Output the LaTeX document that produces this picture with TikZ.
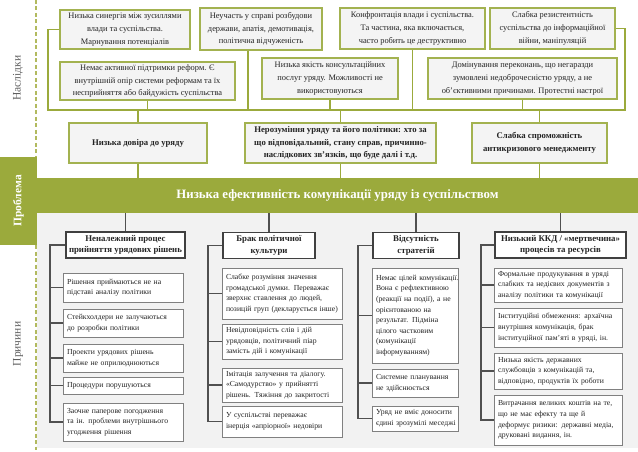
\documentclass[tikz,border=0pt]{standalone}
\usepackage{fontspec}
\setmainfont{Liberation Serif}
\definecolor{olive}{RGB}{155,170,60}
\definecolor{olivebd}{RGB}{163,178,80}
\definecolor{boxfill}{RGB}{244,244,244}
\definecolor{bggray}{RGB}{242,242,242}
\definecolor{hdrgray}{RGB}{64,64,64}
\definecolor{childgray}{RGB}{128,128,128}
\definecolor{wiregray}{RGB}{80,80,80}
\definecolor{dashcol}{RGB}{178,186,95}
\definecolor{txt}{RGB}{35,35,35}
\definecolor{sidetxt}{RGB}{95,95,95}
\newcommand\ml[1]{\mbox{#1}}
\tikzset{
  topbox/.style={draw=olivebd, line width=1.3pt, fill=boxfill, align=center, text=txt,
    font=\fontsize{8.4}{12.8}\selectfont, inner sep=2pt},
  midbox/.style={topbox, font=\bfseries\fontsize{8.7}{12.8}\selectfont},
  hdrbox/.style={draw=hdrgray, line width=1.5pt, fill=white, align=center, text=txt,
    font=\bfseries\fontsize{8.8}{11.5}\selectfont, inner sep=2pt, minimum height=26pt},
  child/.style={draw=childgray, line width=0.9pt, fill=white, align=left, text=txt,
    font=\fontsize{7.7}{10.6}\selectfont, inner xsep=4pt, inner ysep=2pt},
  cola/.style={child, minimum width=120pt, text width=112pt},
  colb/.style={child, minimum width=120pt, text width=112pt},
  colc/.style={child, minimum width=86pt, text width=78pt},
  cold/.style={child, minimum width=128pt, text width=120pt},
  olivewire/.style={draw=olive, line width=1.5pt},
  darkwire/.style={draw=wiregray, line width=1.3pt},
  sidelabel/.style={rotate=90, text=sidetxt, font=\fontsize{11.5}{13}\selectfont},
}
\begin{document}
\begin{tikzpicture}[x=1pt,y=-1pt]
\useasboundingbox (0,0) rectangle (638,452);
% backgrounds
\fill[white] (0,0) rectangle (638,452);
\fill[bggray] (37,213) rectangle (638,448);
% dashed side line
\coordinate (dA) at (36,0);
\coordinate (dB) at (36,157);
\coordinate (dC) at (36,245);
\coordinate (dD) at (36,450);
\draw[dashcol, line width=1.2pt, dash pattern=on 4pt off 2.5pt] (dA) -- (dB) (dC) -- (dD);
% side labels
\node[sidelabel] (lbl1) at (18,78) {Наслідки};
\node[sidelabel] (lbl2) at (18,344) {Причини};
\node[fill=olive, rotate=90, minimum width=88pt, minimum height=37pt, inner sep=0pt,
  text=white, font=\bfseries\fontsize{11.5}{13}\selectfont] (prob) at (18.5,201) {Проблема};
% band
\node[fill=olive, minimum width=601pt, minimum height=35pt, inner sep=0pt, text=white,
  font=\bfseries\fontsize{12.8}{14}\selectfont] (band) at (337.5,195.5)
  {Низька ефективність комунікації уряду із суспільством};

% top boxes
\node[topbox, minimum width=130pt, minimum height=39pt] (s1) at (125,29.5)
  {Низька синергія між зусиллями\\влади та суспільства.\\Марнування потенціалів};
\node[topbox, minimum width=122pt, minimum height=42pt] (s2) at (261,29)
  {Неучасть у справі розбудови\\держави, апатія, демотивація,\\політична відчуженість};
\node[topbox, minimum width=145pt, minimum height=41pt] (s3) at (412.5,28.5)
  {Конфронтація влади і суспільства.\\Та частина, яка включається,\\часто робить це деструктивно};
\node[topbox, minimum width=125pt, minimum height=41pt] (s4) at (552.5,28.5)
  {Слабка резистентність\\суспільства до інформаційної\\війни, маніпуляцій};
\node[topbox, minimum width=175pt, minimum height=38pt] (s5) at (147.5,81)
  {Немає активної підтримки реформ. Є\\внутрішній опір системи реформам та їх\\несприйняття або байдужість суспільства};
\node[topbox, minimum width=136pt, minimum height=41pt] (s6) at (330,78.5)
  {Низька якість консультаційних\\послуг уряду. Можливості не\\використовуються};
\node[topbox, minimum width=189pt, minimum height=41pt] (s7) at (522.5,78.5)
  {Домінування переконань, що негаразди\\зумовлені недоброчесністю уряду, а не\\об’єктивними причинами. Протестні настрої};

% middle boxes
\node[midbox, minimum width=138pt, minimum height=40pt] (m1) at (138,143)
  {Низька довіра до уряду};
\node[midbox, minimum width=191pt, minimum height=40pt] (m2) at (340.5,143)
  {Нерозуміння уряду та його політики: хто за\\що відповідальний, стану справ, причинно-\\наслідкових зв’язків, що буде далі і т.д.};
\node[midbox, minimum width=135pt, minimum height=40pt] (m3) at (539.5,143)
  {Слабка спроможність\\антикризового менеджменту};

% top bus
\coordinate (busL) at (48,110);
\coordinate (busR) at (625,110);
\draw[olivewire] (s1.west) -| (busL) -- (busR) |- (s4.east);
\draw[olivewire] (s5.south) -- (s5.south |- busL);
\draw[olivewire] ([xshift=-13pt]s2.south) -- ([xshift=-13pt]s2.south |- busL);
\draw[olivewire] (s6.south) -- (s6.south |- busL);
\draw[olivewire] (s3.south) -- (s3.south |- busL);
\draw[olivewire] (s7.south) -- (s7.south |- busL);
\foreach \m in {m1,m2,m3}{
  \draw[olivewire] (\m.north |- busL) -- (\m.north);
  \draw[olivewire] (\m.south) -- (\m.south |- band.north);
}

% header boxes
\node[hdrbox, minimum width=119pt] (h1) at (125.5,245) {Неналежний процес\\прийняття урядових рішень};
\node[hdrbox, minimum width=92pt] (h2) at (269,245.5) {Брак політичної\\культури};
\node[hdrbox, minimum width=86pt] (h3) at (416,245.5) {Відсутність\\стратегій};
\node[hdrbox, minimum width=131pt] (h4) at (560.5,245) {Низький ККД / «мертвечина»\\процесів та ресурсів};
\foreach \h in {h1,h2,h3,h4}{
  \draw[darkwire] (band.south -| \h.north) -- (\h.north);
}

% column 1
\node[cola, minimum height=29pt] (c1a) at (123,287.5) {\ml{Рішення приймаються не на}\\\ml{підставі аналізу політики}};
\node[cola, minimum height=28pt] (c1b) at (123,323) {\ml{Стейкхолдери не залучаються}\\\ml{до розробки політики}};
\node[cola, minimum height=28pt] (c1c) at (123,358) {\ml{Проекти урядових рішень}\\\ml{майже не оприлюднюються}};
\node[cola, minimum height=17pt] (c1d) at (123,385.5) {\ml{Процедури порушуються}};
\node[cola, minimum height=38pt] (c1e) at (123,422) {\ml{Заочне паперове погодження}\\\ml{та ін. проблеми внутрішнього}\\\ml{угодження рішення}};
\coordinate (k1) at (50,0);
\draw[darkwire] (h1.west) -- (h1.west -| k1) -- (c1e.west -| k1) -- (c1e.west);
\foreach \c in {c1a,c1b,c1c,c1d}{\draw[darkwire] (\c.west -| k1) -- (\c.west);}

% column 2
\node[colb, minimum height=51pt] (c2a) at (282,293.5) {\ml{Слабке розуміння значення}\\\ml{громадської думки. Переважає}\\\ml{зверхнє ставлення до людей,}\\\ml{позицій груп (декларується інше)}};
\node[colb, minimum height=35pt] (c2b) at (282,341.5) {\ml{Невідповідність слів і дій}\\\ml{урядовців, політичний піар}\\\ml{замість дій і комунікації}};
\node[colb, minimum height=34pt] (c2c) at (282,385) {\ml{Імітація залучення та діалогу.}\\\ml{«Самодурство» у прийнятті}\\\ml{рішень. Тяжіння до закритості}};
\node[colb, minimum height=31pt] (c2d) at (282,421.5) {\ml{У суспільстві переважає}\\\ml{інерція «апріорної» недовіри}};
\coordinate (k2) at (208,0);
\draw[darkwire] (h2.west) -- (h2.west -| k2) -- (c2d.west -| k2) -- (c2d.west);
\foreach \c in {c2a,c2b,c2c}{\draw[darkwire] (\c.west -| k2) -- (\c.west);}

% column 3
\node[colc, minimum height=95pt] (c3a) at (415,315.5) {\ml{Немає цілей комунікації.}\\\ml{Вона є рефлективною}\\\ml{(реакції на події), а не}\\\ml{орієнтованою на}\\\ml{результат. Підміна}\\\ml{цілого частковим}\\\ml{(комунікації}\\\ml{інформуванням)}};
\node[colc, minimum height=28pt] (c3b) at (415,383) {\ml{Системне планування}\\\ml{не здійснюється}};
\node[colc, minimum height=25pt] (c3c) at (415,418.5) {\ml{Уряд не вміє доносити}\\\ml{єдині зрозумілі меседжі}};
\coordinate (k3) at (358,0);
\draw[darkwire] (h3.west) -- (h3.west -| k3) -- (c3c.west -| k3) -- (c3c.west);
\foreach \c in {c3a,c3b}{\draw[darkwire] (\c.west -| k3) -- (\c.west);}

% column 4
\node[cold, minimum height=34pt] (c4a) at (558,285) {\ml{Формальне продукування в уряді}\\\ml{слабких та недієвих документів з}\\\ml{аналізу політики та комунікації}};
\node[cold, minimum height=39pt] (c4b) at (558,327.5) {\ml{Інституційні обмеження: архаїчна}\\\ml{внутрішня комунікація, брак}\\\ml{інституційної пам’яті в уряді, ін.}};
\node[cold, minimum height=36pt] (c4c) at (558,371) {\ml{Низька якість державних}\\\ml{службовців з комунікацій та,}\\\ml{відповідно, продуктів їх роботи}};
\node[cold, minimum height=50pt] (c4d) at (558,420) {\ml{Витрачання великих коштів на те,}\\\ml{що не має ефекту та ще й}\\\ml{деформує ризики: державні медіа,}\\\ml{друковані видання, ін.}};
\coordinate (k4) at (481,0);
\draw[darkwire] (h4.west) -- (h4.west -| k4) -- (c4d.west -| k4) -- (c4d.west);
\foreach \c in {c4a,c4b,c4c}{\draw[darkwire] (\c.west -| k4) -- (\c.west);}
\end{tikzpicture}
\end{document}
